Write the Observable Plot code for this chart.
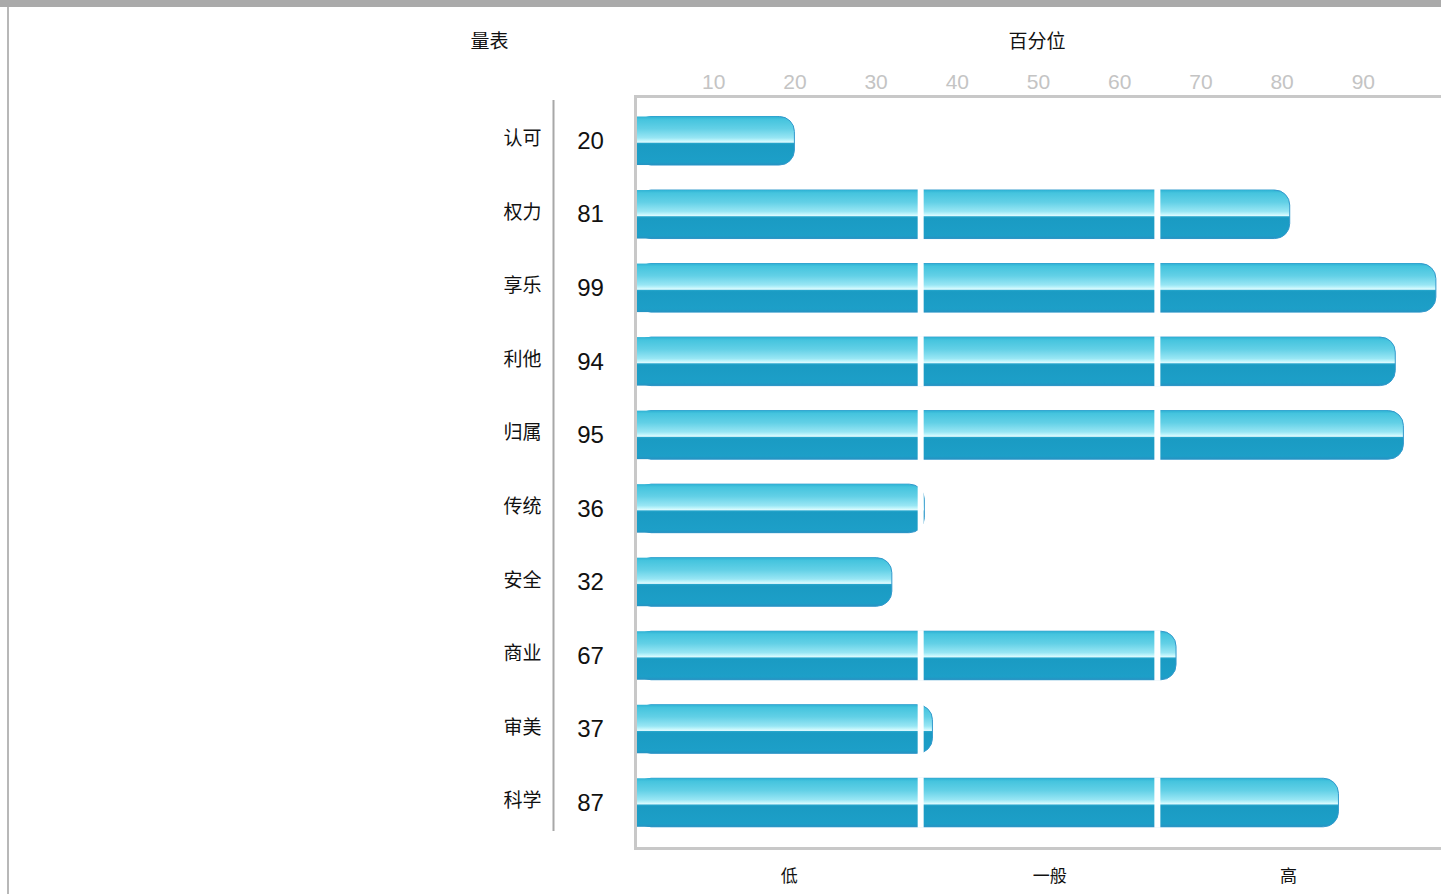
<!DOCTYPE html>
<html>
<head>
<meta charset="utf-8">
<script src="https://cdn.jsdelivr.net/npm/d3@7"></script>
<script src="https://cdn.jsdelivr.net/npm/@observablehq/plot@0.6"></script>
<style>
  html, body { margin: 0; padding: 0; background: #fff; overflow: hidden; }
  #chart { position: absolute; left: 0; top: 0; }
  .topbar { position: absolute; left: 0; top: 0; width: 1441px; height: 7px; background: #aaaaaa; z-index: 2; }
  .leftbar { position: absolute; left: 7px; top: 7px; width: 2px; height: 887px; background: #b8b8b8; z-index: 2; }
</style>
</head>
<body>
<div class="topbar"></div>
<div class="leftbar"></div>
<div id="chart"></div>
<script>
// ---- data ----
const categories = ["认可", "权力", "享乐", "利他", "归属", "传统", "安全", "商业", "审美", "科学"];
const values = [20, 81, 99, 94, 95, 36, 32, 67, 37, 87];
const tickValues = [10, 20, 30, 40, 50, 60, 70, 80, 90];
const levelLabels = ["低", "一般", "高"];
const levelPositions = [19.3, 51.4, 80.8];
const bandBreaks = [35.55, 64.7];
const headerLeft = "量表";
const headerRight = "百分位";

// ---- derived tables ----
const rows = categories.map((c, i) => ({cat: c, value: values[i]}));
const separators = [];
rows.forEach(r => bandBreaks.forEach(b => { if (r.value > b) separators.push({cat: r.cat, x: b}); }));

const font = "'Noto Sans CJK SC', 'Noto Sans', sans-serif";
const numFont = "'Liberation Sans', Arial, sans-serif";
const FILL = "url(#barGrad)";

const plot = Plot.plot({
  width: 1441,
  height: 894,
  marginLeft: 635,
  marginRight: 0,
  marginTop: 103,
  marginBottom: 54,
  style: {fontFamily: font, background: "transparent", overflow: "visible"},
  x: {domain: [0, 100], range: [632, 1444], axis: null},
  y: {domain: categories, range: [104, 839.3], paddingInner: 0.34, paddingOuter: 0.17, round: false, axis: null},
  marks: [
    // bars with rounded right end
    Plot.rect(rows, {x1: 0, x2: "value", y: "cat", fill: FILL, stroke: "#3399cc", strokeWidth: 1, rx: 15, insetLeft: 4}),
    // square-off the left side
    Plot.rect(rows, {x1: 0, x2: "value", y: "cat", fill: FILL, insetRight: 16, insetLeft: 4}),
    // white gaps between level bands
    Plot.rect(separators, {x1: "x", x2: "x", y: "cat", fill: "#fff", insetLeft: -3, insetRight: -3, insetTop: -1, insetBottom: -1}),
    // plot frame
    Plot.frame({stroke: "#c8c8c8", strokeWidth: 3, insetTop: -7, insetBottom: -8, insetRight: -6}),
    // top axis
    Plot.axisX({anchor: "top", ticks: tickValues, tickSize: 0, tickPadding: 15, fontSize: 21, fill: "#c4c4c4", fontFamily: numFont, label: null}),
    // separator rule
    Plot.ruleX([0], {dx: -79, stroke: "#a8a8a8", strokeWidth: 2, insetTop: -3, insetBottom: 9}),
    // category labels
    Plot.text(categories, {y: d => d, frameAnchor: "left", dx: -94, dy: -2, textAnchor: "end", fontSize: 19, fill: "#111"}),
    // value labels
    Plot.text(rows, {y: "cat", text: d => String(d.value), frameAnchor: "left", dx: -45, dy: 0, textAnchor: "middle", fontSize: 24, fontFamily: numFont, fill: "#111"}),
    // headers
    Plot.text([headerLeft], {frameAnchor: "top-left", lineAnchor: "middle", dx: -146, dy: -62, textAnchor: "middle", fontSize: 19, fill: "#111"}),
    Plot.text([headerRight], {x: () => 49.8, frameAnchor: "top", lineAnchor: "middle", dy: -62, textAnchor: "middle", fontSize: 19, fill: "#111"}),
    // level labels
    Plot.text(levelLabels, {x: (d, i) => levelPositions[i], frameAnchor: "bottom", lineAnchor: "middle", dy: 36, textAnchor: "middle", fontSize: 17, fill: "#111"})
  ]
});

// gradient definition
const svg = d3.select(plot.tagName.toLowerCase() === "svg" ? plot : plot.querySelector("svg"));
const defs = svg.insert("defs", ":first-child");
const g = defs.append("linearGradient").attr("id", "barGrad").attr("x1", 0).attr("y1", 0).attr("x2", 0).attr("y2", 1);
[
  [0, "#2eb2d4"],
  [0.06, "#45c4de"],
  [0.25, "#62d0e6"],
  [0.44, "#98e6f4"],
  [0.5, "#c4f6fc"],
  [0.53, "#e0fbff"],
  [0.55, "#26a6cc"],
  [0.58, "#1a9bc3"],
  [0.94, "#1d9fc8"],
  [1, "#2692c2"]
].forEach(([o, c]) => g.append("stop").attr("offset", o).attr("stop-color", c));

document.getElementById("chart").appendChild(plot);
</script>
</body>
</html>
